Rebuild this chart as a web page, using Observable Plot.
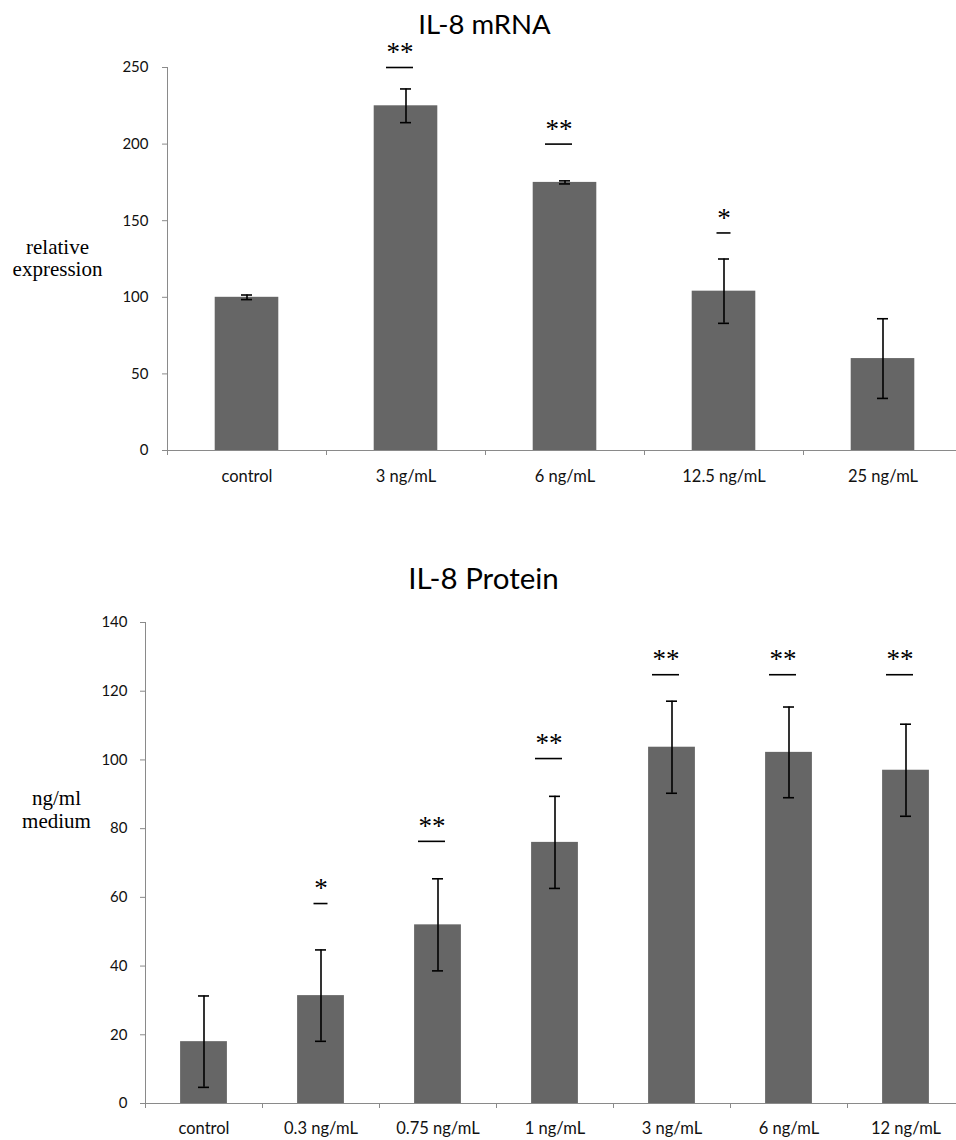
<!DOCTYPE html>
<html>
<head>
<meta charset="utf-8">
<script src="https://cdn.jsdelivr.net/npm/d3@7"></script>
<script src="https://cdn.jsdelivr.net/npm/@observablehq/plot@0.6"></script>
<style>
  body { margin: 0; background: #fff; }
  #chart svg { display: block; overflow: visible; }
</style>
</head>
<body>
<div id="chart"></div>
<script>
// IL-8 mRNA, relative expression (control = 100)
const mrnaDoses = ["control", "3 ng/mL", "6 ng/mL", "12.5 ng/mL", "25 ng/mL"];
const mrnaMean = [100, 225, 175, 104, 60];
const mrnaErr = [1.5, 11, 1, 21, 26];
const mrnaStars = ["", "**", "**", "*", ""];
const mrnaStarBar = [null, 250, 200, 142, null];
const mrnaTicks = [0, 50, 100, 150, 200, 250];

// IL-8 protein, ng/ml medium
const protDoses = ["control", "0.3 ng/mL", "0.75 ng/mL", "1 ng/mL", "3 ng/mL", "6 ng/mL", "12 ng/mL"];
const protMean = [18, 31.4, 52, 76, 103.7, 102.2, 97];
const protErr = [13.3, 13.3, 13.4, 13.4, 13.4, 13.2, 13.4];
const protStars = ["", "*", "**", "**", "**", "**", "**"];
const protStarBar = [null, 58.2, 76.3, 100.4, 124.8, 124.8, 124.8];
const protTicks = [0, 20, 40, 60, 80, 100, 120, 140];

const SANS = "Lato, 'Open Sans', sans-serif";
const SERIF = "'Liberation Serif', 'DejaVu Serif', serif";
const AXIS = "#8a8a8a";
const BAR = "#666666";

function panel(o) {
  const rows = o.doses.map((dose, i) => ({dose, mean: o.mean[i], lo: o.mean[i] - o.err[i], hi: o.mean[i] + o.err[i]}));
  const sig = o.doses.map((dose, i) => ({dose, stars: o.stars[i], at: o.starBar[i]})).filter(d => d.stars);
  const bw = (o.xEnd - o.left) / o.doses.length;
  const capW = 11;
  const sigLine = (w, dx) => ({x: "dose", y: "at", stroke: "#000", strokeWidth: 1.6, insetLeft: (bw - w) / 2, insetRight: (bw - w) / 2, dx});
  const sigText = (dx) => ({x: "dose", y: "at", text: "stars", dx, dy: -15, fontSize: 27, fontFamily: SERIF, fill: "#000"});
  return Plot.plot({
    width: 956,
    height: o.height,
    marginLeft: o.left,
    marginRight: 0,
    marginTop: o.top,
    marginBottom: o.height - o.base,
    x: {domain: o.doses, range: [o.left, o.xEnd], padding: 0, axis: null},
    y: {domain: [0, o.ticks[o.ticks.length - 1]], axis: null},
    style: {fontFamily: SANS, background: "#fff", color: "#000"},
    marks: [
      Plot.barY(rows, {x: "dose", y: "mean", fill: BAR, insetLeft: bw * 0.3, insetRight: bw * 0.3}),
      Plot.ruleY([0], {stroke: AXIS}),
      Plot.frame({anchor: "left", stroke: AXIS}),
      Plot.axisY({ticks: o.ticks, tickSize: 5, tickPadding: o.tickPad, stroke: AXIS, fill: "#111", fontSize: 15, label: null}),
      // category separators under the baseline
      Plot.ruleX(o.doses, {x: d => d, y1: 0, y2: 0, insetBottom: -5, dx: -bw / 2, stroke: AXIS}),
      Plot.text(o.doses, {x: d => d, text: d => d, frameAnchor: "bottom", dy: o.labelDy, fontSize: 16.5, fill: "#111"}),
      // error bars
      Plot.ruleX(rows, {x: "dose", y1: "lo", y2: "hi", stroke: "#000", strokeWidth: 1.6}),
      Plot.tickY(rows, {x: "dose", y: "lo", stroke: "#000", strokeWidth: 1.6, insetLeft: (bw - capW) / 2, insetRight: (bw - capW) / 2}),
      Plot.tickY(rows, {x: "dose", y: "hi", stroke: "#000", strokeWidth: 1.6, insetLeft: (bw - capW) / 2, insetRight: (bw - capW) / 2}),
      // significance markers
      Plot.tickY(sig.filter(d => d.stars === "**"), sigLine(27, -6)),
      Plot.tickY(sig.filter(d => d.stars === "*"), sigLine(14, 0)),
      Plot.text(sig.filter(d => d.stars === "**"), sigText(-6)),
      Plot.text(sig.filter(d => d.stars === "*"), sigText(0)),
      // title and y label
      Plot.text([o.title], {text: d => d, frameAnchor: "top-left", dx: o.titleDx, dy: o.titleDy, lineAnchor: "top", textAnchor: "middle", fontSize: o.titleSize, fill: "#000"}),
      Plot.text([o.yLabel], {text: d => d, frameAnchor: "top-left", dx: o.yLabelDx, dy: o.yLabelDy, lineAnchor: "top", textAnchor: "middle", fontSize: 21, lineHeight: o.yLabelLH, fontFamily: SERIF, fill: "#000"})
    ]
  });
}

const chart = document.getElementById("chart");
chart.append(panel({
  title: "IL-8 mRNA", titleSize: 27.5, titleDx: 317, titleDy: -53.5,
  yLabel: "relative\nexpression", yLabelDx: -110, yLabelDy: 170.8, yLabelLH: 1.06,
  doses: mrnaDoses, mean: mrnaMean, err: mrnaErr, stars: mrnaStars, starBar: mrnaStarBar, ticks: mrnaTicks,
  left: 167, xEnd: 962, top: 67, base: 450, height: 530, tickPad: 14, labelDy: 31
}));
chart.append(panel({
  title: "IL-8 Protein", titleSize: 29.5, titleDx: 338, titleDy: -54,
  yLabel: "ng/ml\nmedium", yLabelDx: -89, yLabelDy: 166.1, yLabelLH: 1.1,
  doses: protDoses, mean: protMean, err: protErr, stars: protStars, starBar: protStarBar, ticks: protTicks,
  left: 145, xEnd: 964, top: 92, base: 573, height: 610, tickPad: 13, labelDy: 30
}));
</script>
</body>
</html>
